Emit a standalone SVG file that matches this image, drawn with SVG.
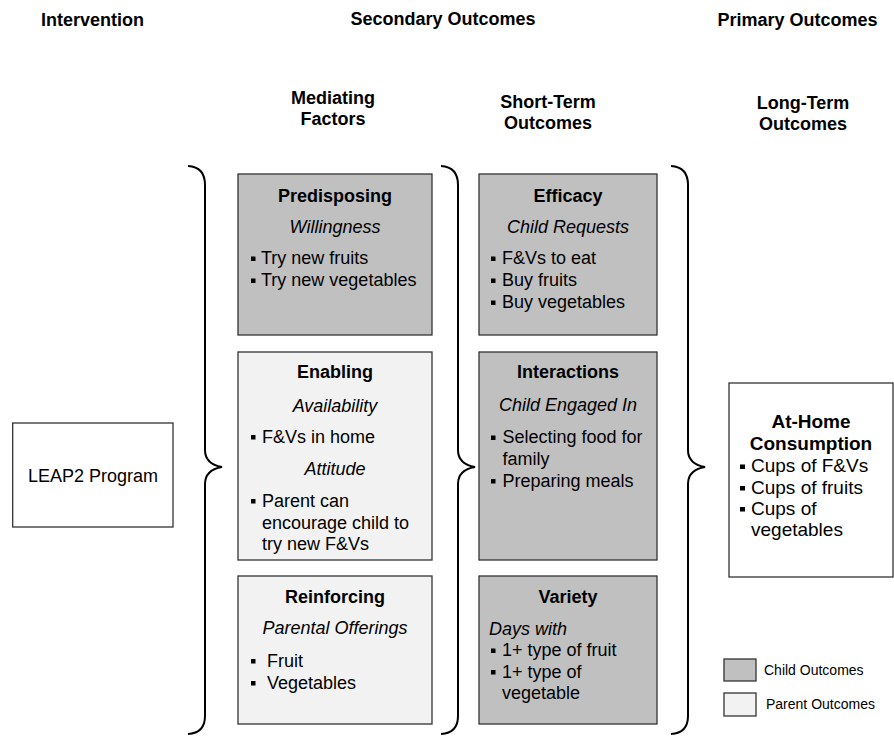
<svg xmlns="http://www.w3.org/2000/svg" width="894" height="736" viewBox="0 0 894 736">
  <style>
    text { font-family: "Liberation Sans", Arial, sans-serif; fill: #000; }
    .hdr { font-size: 18px; font-weight: bold; text-anchor: middle; }
    .ttl { font-size: 18px; font-weight: bold; text-anchor: middle; }
    .sub { font-size: 18px; font-style: italic; text-anchor: middle; }
    .item { font-size: 18px; }
    .big { font-size: 19px; }
    .leg { font-size: 14px; }
    .box { stroke: #333; stroke-width: 1.3; }
    .child { fill: #c0c0c0; }
    .parent { fill: #f2f2f2; }
    .plain { fill: #fff; }
    .brace { fill: none; stroke: #000; stroke-width: 2; }
    .dot { fill: #000; }
  </style>
  <rect width="894" height="736" fill="#fff"/>

  <!-- column headers -->
  <g id="headers">
    <text class="hdr" x="92.5" y="26">Intervention</text>
    <text class="hdr" x="443" y="25">Secondary Outcomes</text>
    <text class="hdr" x="797.5" y="26">Primary Outcomes</text>
    <text class="hdr" x="333" y="104">Mediating</text>
    <text class="hdr" x="333" y="125">Factors</text>
    <text class="hdr" x="548" y="108">Short-Term</text>
    <text class="hdr" x="548" y="129">Outcomes</text>
    <text class="hdr" x="803" y="109">Long-Term</text>
    <text class="hdr" x="803" y="130">Outcomes</text>
  </g>

  <!-- grouping braces -->
  <g id="connectors">
    <path class="brace" d="M188,166 Q205,167 205,185 L205,450 Q205,464 222,467 Q205,470 205,484 L205,716 Q205,733 188,734"/>
    <path class="brace" d="M441,166 Q458,167 458,185 L458,450 Q458,464 475,467 Q458,470 458,484 L458,716 Q458,733 441,734"/>
    <path class="brace" d="M671,166 Q688,167 688,185 L688,450 Q688,464 705,467 Q688,470 688,484 L688,716 Q688,733 671,734"/>
  </g>

  <g id="leap2">
    <rect class="box plain" x="12.7" y="423" width="160.3" height="104"/>
    <text class="item" x="93" y="481.5" text-anchor="middle">LEAP2 Program</text>
  </g>

  <g id="predisposing">
    <rect class="box child" x="238" y="174" width="194" height="161"/>
    <text class="ttl" x="335" y="202">Predisposing</text>
    <text class="sub" x="335" y="233">Willingness</text>
    <rect class="dot" x="251" y="256.5" width="4.5" height="4.5"/>
    <text class="item" x="261" y="264">Try new fruits</text>
    <rect class="dot" x="251" y="278.5" width="4.5" height="4.5"/>
    <text class="item" x="261" y="286">Try new vegetables</text>
  </g>

  <g id="enabling">
    <rect class="box parent" x="238" y="352" width="194" height="208"/>
    <text class="ttl" x="335" y="378">Enabling</text>
    <text class="sub" x="335" y="411.5">Availability</text>
    <rect class="dot" x="251" y="435" width="4.5" height="4.5"/>
    <text class="item" x="262" y="442.5">F&amp;Vs in home</text>
    <text class="sub" x="335" y="475">Attitude</text>
    <rect class="dot" x="251" y="499" width="4.5" height="4.5"/>
    <text class="item" x="262" y="506.5">Parent can</text>
    <text class="item" x="262" y="528.5">encourage child to</text>
    <text class="item" x="262" y="550">try new F&amp;Vs</text>
  </g>

  <g id="reinforcing">
    <rect class="box parent" x="238" y="576" width="194" height="148"/>
    <text class="ttl" x="335" y="603">Reinforcing</text>
    <text class="sub" x="335" y="634">Parental Offerings</text>
    <rect class="dot" x="251" y="659" width="4.5" height="4.5"/>
    <text class="item" x="267" y="666.5">Fruit</text>
    <rect class="dot" x="251" y="681" width="4.5" height="4.5"/>
    <text class="item" x="267" y="688.5">Vegetables</text>
  </g>

  <g id="efficacy">
    <rect class="box child" x="479" y="174" width="178" height="161"/>
    <text class="ttl" x="568" y="202">Efficacy</text>
    <text class="sub" x="568" y="233">Child Requests</text>
    <rect class="dot" x="491" y="256.5" width="4.5" height="4.5"/>
    <text class="item" x="502" y="264">F&amp;Vs to eat</text>
    <rect class="dot" x="491" y="278.5" width="4.5" height="4.5"/>
    <text class="item" x="502" y="286">Buy fruits</text>
    <rect class="dot" x="491" y="300.5" width="4.5" height="4.5"/>
    <text class="item" x="502" y="308">Buy vegetables</text>
  </g>

  <g id="interactions">
    <rect class="box child" x="479" y="352" width="178" height="208"/>
    <text class="ttl" x="568" y="378">Interactions</text>
    <text class="sub" x="568" y="411">Child Engaged In</text>
    <rect class="dot" x="491" y="435.5" width="4.5" height="4.5"/>
    <text class="item" x="502.5" y="443">Selecting food for</text>
    <text class="item" x="502.5" y="464.5">family</text>
    <rect class="dot" x="491" y="479" width="4.5" height="4.5"/>
    <text class="item" x="502.5" y="486.5">Preparing meals</text>
  </g>

  <g id="variety">
    <rect class="box child" x="479" y="576" width="178" height="148"/>
    <text class="ttl" x="568" y="603">Variety</text>
    <text class="item" x="489" y="635" font-style="italic">Days with</text>
    <rect class="dot" x="491" y="648.5" width="4.5" height="4.5"/>
    <text class="item" x="502" y="656">1+ type of fruit</text>
    <rect class="dot" x="491" y="670" width="4.5" height="4.5"/>
    <text class="item" x="502" y="677.5">1+ type of</text>
    <text class="item" x="502" y="699">vegetable</text>
  </g>

  <g id="consumption">
    <rect class="box plain" x="729" y="383" width="164" height="194"/>
    <text class="ttl big" x="811" y="428">At-Home</text>
    <text class="ttl big" x="811" y="450">Consumption</text>
    <rect class="dot" x="740" y="464.5" width="5" height="4.5"/>
    <text class="item big" x="751" y="472">Cups of F&amp;Vs</text>
    <rect class="dot" x="740" y="486" width="5" height="4.5"/>
    <text class="item big" x="751" y="493.5">Cups of fruits</text>
    <rect class="dot" x="740" y="507" width="5" height="4.5"/>
    <text class="item big" x="751" y="514.5">Cups of</text>
    <text class="item big" x="751" y="536">vegetables</text>
  </g>

  <g id="legend">
    <rect class="box child" x="724" y="659" width="32" height="22"/>
    <text class="leg" x="764" y="675">Child Outcomes</text>
    <rect class="box parent" x="724" y="693" width="32" height="23"/>
    <text class="leg" x="766" y="708.5">Parent Outcomes</text>
  </g>
</svg>
